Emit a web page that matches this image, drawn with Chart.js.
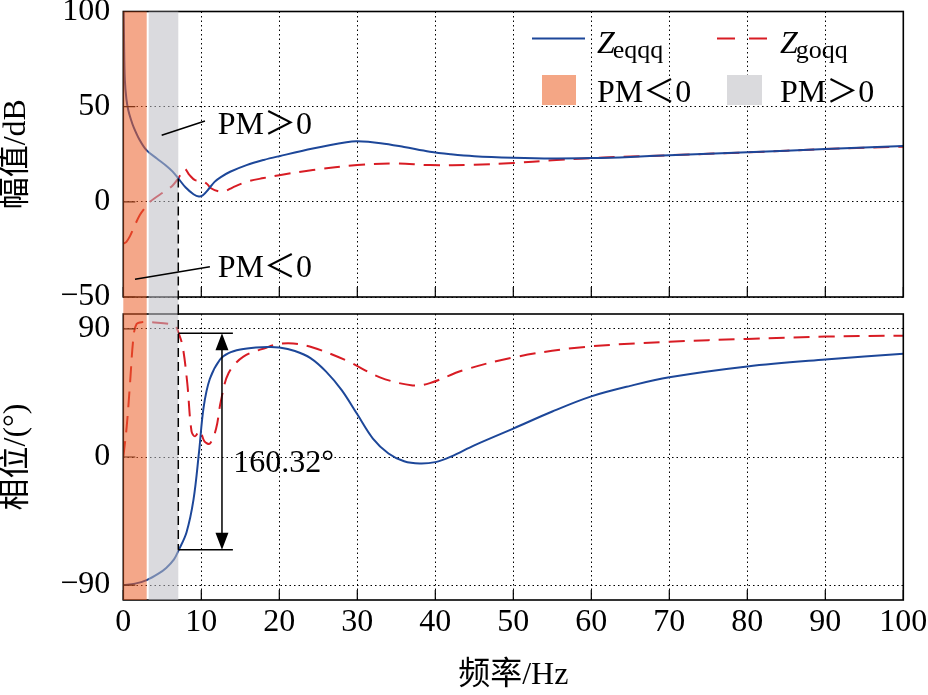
<!DOCTYPE html>
<html>
<head>
<meta charset="utf-8">
<script src="https://cdn.jsdelivr.net/npm/chart.js@4.4.1/dist/chart.umd.min.js"></script>
<style>
  html, body { margin: 0; padding: 0; background: #fff; }
  #wrap { position: relative; width: 928px; height: 695px; }
  canvas { position: absolute; left: 0; }
  #magChart { top: 0; }
  #phaseChart { top: 306px; }
</style>
</head>
<body>
<div id="wrap">
  <canvas id="magChart" width="928" height="306"></canvas>
  <canvas id="phaseChart" width="928" height="389"></canvas>
</div>
<script>
// Bode plot of Zeqqq / Zgoqq

// magnitude (dB)
const magFreqE = [0.03, 0.1, 0.2, 0.4, 0.65, 1, 1.3, 2.1, 3, 4.3, 5.5, 6.3, 7.05, 8, 9, 9.7, 10.2, 11, 11.7, 12.5, 13.7, 15.8, 18, 20, 24.3, 28.6, 30, 33, 36, 39.3, 42, 45, 50, 55, 60, 65, 70, 80, 90, 100];
const magE = [110, 83, 64, 54, 48, 43, 39.5, 32.5, 27, 22.8, 19, 16, 12.3, 7.5, 4, 2.8, 3.5, 7, 10.5, 13, 15.8, 19.3, 22, 24, 28, 31.3, 31.8, 30.8, 28.8, 26.3, 25, 24, 23.2, 22.8, 23, 23.6, 24.5, 26, 27.7, 29.3];
const magFreqG = [0, 0.4, 0.86, 1.3, 2.1, 2.8, 3.4, 5.4, 6.3, 7.05, 7.5, 7.9, 8.5, 9.2, 10, 10.7, 11.3, 12.3, 13, 14, 15.8, 18, 20, 24.3, 30, 35, 39.3, 45, 50, 55, 60, 70, 80, 90, 100];
const magG = [-22, -21, -18, -14, -7, -3, 0, 5.8, 8.5, 12.3, 15.5, 17.3, 14, 11.4, 11, 9.5, 7, 5.4, 5.5, 7.5, 10.5, 12.5, 14, 16.7, 19.3, 20.2, 19.3, 19.5, 20.4, 21.8, 23, 24.5, 26, 27.7, 29];

// phase (deg)
const phaseFreqE = [0, 1.5, 3, 4.5, 5.5, 6.5, 7.05, 8.1, 9, 9.7, 10.3, 11.1, 12.4, 13.5, 15, 17, 18.5, 20, 22, 24, 26, 28, 30, 32, 34, 36, 38, 40, 42, 45, 50, 55, 60, 65, 70, 80, 90, 100];
const phaseE = [-90, -89, -86.5, -82, -78, -72, -66, -53, -30, 3, 35, 55, 68.5, 73, 75.5, 77, 77.3, 77, 74.5, 69.5, 60, 47, 30, 13, 2.5, -3, -4.6, -3.6, 0.3, 8.2, 20, 32, 42.6, 50, 56, 63.6, 68.5, 72.6];
const phaseFreqG = [0, 0.43, 0.86, 1.3, 1.7, 2.5, 4, 6, 6.7, 7.05, 7.6, 8.2, 8.75, 9.2, 9.8, 10.4, 11.1, 11.9, 12.5, 13.5, 15.4, 18.4, 20, 21.8, 24.3, 28.6, 32.9, 37.1, 39.3, 43.5, 50, 58.5, 70, 80, 90, 100];
const phaseG = [0, 21, 51.5, 84, 93.5, 94.8, 94.5, 93.5, 92, 87.7, 78, 52, 18, 14.5, 18.7, 11, 9.4, 20, 39, 59, 70.5, 77, 79.5, 79.8, 77, 67.8, 56, 50.3, 51.9, 60.8, 70, 77, 81, 83, 84.6, 85.3];

// ticks
const xTicks = [0, 10, 20, 30, 40, 50, 60, 70, 80, 90, 100];
const magTicks = [-50, 0, 50, 100];
const phaseTicks = [-90, 0, 90];

// shaded bands and phase margin marker
const pmNegBand = [0, 3];
const pmPosBand = [3.25, 7.05];
const marginFreq = 7.05;
const marginMag = 12.3;
const marginPhaseTop = 86.9;
const marginPhaseBottom = -65.2;

const serif = '"Liberation Serif", "Noto Sans CJK SC", serif';
const blue = '#1d4799';
const red = '#d81c24';
const orangeBand = 'rgba(235, 95, 40, 0.55)';
const grayBand = 'rgba(188, 188, 195, 0.55)';

Chart.defaults.font.family = serif;
Chart.defaults.font.size = 32;
Chart.defaults.color = '#000';

function toPoints(xs, ys) {
    return xs.map((v, i) => ({ x: v, y: ys[i] }));
}
function fmt(v) {
    return v < 0 ? '\u2212' + Math.abs(v) : String(v);
}

const gridStyle = { color: '#000', lineWidth: 1, drawTicks: false };
const borderStyle = { display: false, dash: [1.5, 3] };

function drawFrame(chart) {
    const { ctx, chartArea: a, scales: { x, y } } = chart;
    ctx.save();
    ctx.strokeStyle = '#000';
    ctx.setLineDash([]);
    ctx.lineWidth = 1.2;
    ctx.beginPath();
    x.ticks.forEach(t => {
        const px = x.getPixelForValue(t.value);
        ctx.moveTo(px, a.bottom);
        ctx.lineTo(px, a.bottom - 10);
    });
    y.ticks.forEach(t => {
        const py = y.getPixelForValue(t.value);
        ctx.moveTo(a.left, py);
        ctx.lineTo(a.left + 12, py);
    });
    ctx.stroke();
    ctx.lineWidth = 1.6;
    ctx.strokeRect(a.left, a.top, a.right - a.left, a.bottom - a.top);
    ctx.restore();
}

function drawBands(chart, y0, y1) {
    const { ctx, scales: { x } } = chart;
    ctx.save();
    let l = x.getPixelForValue(pmNegBand[0]), r = x.getPixelForValue(pmNegBand[1]);
    ctx.fillStyle = orangeBand;
    ctx.fillRect(l, y0, r - l, y1 - y0);
    l = x.getPixelForValue(pmPosBand[0]);
    r = x.getPixelForValue(pmPosBand[1]);
    ctx.fillStyle = grayBand;
    ctx.fillRect(l, y0, r - l, y1 - y0);
    ctx.restore();
}

function legendLabel(ctx, x, base, sub) {
    ctx.font = 'italic 32px ' + serif;
    ctx.fillText('Z', x, base);
    const w = ctx.measureText('Z').width;
    ctx.font = '26px ' + serif;
    ctx.fillText(sub, x + w - 2, base + 5);
}

const magDecor = {
    id: 'magDecor',
    afterDatasetsDraw(chart) {
        drawFrame(chart);
        drawBands(chart, chart.chartArea.top, chart.height);
    },
    afterDraw(chart) {
        const { ctx, scales: { x, y } } = chart;
        ctx.save();
        // dashed marker at the crossing
        ctx.strokeStyle = '#000';
        ctx.lineWidth = 1.5;
        ctx.setLineDash([9, 5]);
        ctx.beginPath();
        ctx.moveTo(x.getPixelForValue(marginFreq), y.getPixelForValue(marginMag));
        ctx.lineTo(x.getPixelForValue(marginFreq), chart.height);
        ctx.stroke();
        ctx.setLineDash([]);

        // PM labels with leader lines
        ctx.lineWidth = 1.5;
        ctx.beginPath();
        ctx.moveTo(x.getPixelForValue(4.92), y.getPixelForValue(35));
        ctx.lineTo(x.getPixelForValue(10.47), y.getPixelForValue(42.5));
        ctx.moveTo(x.getPixelForValue(1.5), y.getPixelForValue(-40.7));
        ctx.lineTo(x.getPixelForValue(11.1), y.getPixelForValue(-34.1));
        ctx.stroke();
        ctx.fillStyle = '#000';
        ctx.font = '32px ' + serif;
        ctx.textBaseline = 'alphabetic';
        ctx.fillText('PM＞0', x.getPixelForValue(12.1), y.getPixelForValue(35.4));
        ctx.fillText('PM＜0', x.getPixelForValue(12.1), y.getPixelForValue(-39.4));

        // legend
        ctx.lineWidth = 2;
        ctx.strokeStyle = blue;
        ctx.beginPath();
        ctx.moveTo(532, 38.5);
        ctx.lineTo(585, 38.5);
        ctx.stroke();
        ctx.strokeStyle = red;
        ctx.setLineDash([18, 14]);
        ctx.beginPath();
        ctx.moveTo(717, 38.5);
        ctx.lineTo(770, 38.5);
        ctx.stroke();
        ctx.setLineDash([]);
        ctx.fillStyle = '#000';
        legendLabel(ctx, 597, 53, 'eqqq');
        legendLabel(ctx, 780, 53, 'goqq');
        ctx.fillStyle = '#f4a685';
        ctx.fillRect(542, 75, 34, 30);
        ctx.fillStyle = '#dadadd';
        ctx.fillRect(727, 75, 35, 30);
        ctx.fillStyle = '#000';
        ctx.font = '32px ' + serif;
        ctx.fillText('PM＜0', 597, 101.5);
        ctx.fillText('PM＞0', 780, 101.5);
        ctx.restore();
    }
};

const phaseDecor = {
    id: 'phaseDecor',
    afterDatasetsDraw(chart) {
        drawFrame(chart);
        drawBands(chart, 0, chart.chartArea.bottom);
    },
    afterDraw(chart) {
        const { ctx, scales: { x, y } } = chart;
        const xm = x.getPixelForValue(marginFreq);
        const yTop = y.getPixelForValue(marginPhaseTop);
        const yBot = y.getPixelForValue(marginPhaseBottom);
        const ax = x.getPixelForValue(12.65);
        const xr = x.getPixelForValue(14.05);
        ctx.save();
        ctx.strokeStyle = '#000';
        ctx.fillStyle = '#000';
        ctx.lineWidth = 1.5;
        ctx.setLineDash([9, 5]);
        ctx.beginPath();
        ctx.moveTo(xm, 0);
        ctx.lineTo(xm, yBot);
        ctx.stroke();
        ctx.setLineDash([]);

        // 160.32° span
        ctx.beginPath();
        ctx.moveTo(xm, yTop);
        ctx.lineTo(xr, yTop);
        ctx.moveTo(xm, yBot);
        ctx.lineTo(xr, yBot);
        ctx.moveTo(ax, yTop + 12);
        ctx.lineTo(ax, yBot - 12);
        ctx.stroke();
        ctx.beginPath();
        ctx.moveTo(ax, yTop);
        ctx.lineTo(ax - 6.5, yTop + 17);
        ctx.lineTo(ax + 6.5, yTop + 17);
        ctx.closePath();
        ctx.moveTo(ax, yBot);
        ctx.lineTo(ax - 6.5, yBot - 17);
        ctx.lineTo(ax + 6.5, yBot - 17);
        ctx.closePath();
        ctx.fill();
        ctx.font = '32px ' + serif;
        ctx.fillText('160.32°', x.getPixelForValue(14.1), y.getPixelForValue(-10.3));
        ctx.restore();
    }
};

function lineSet(label, pts, color, dash) {
    return {
        label: label,
        data: pts,
        borderColor: color,
        borderWidth: 2,
        borderDash: dash,
        pointRadius: 0,
        fill: false,
        tension: 0.35
    };
}

new Chart(document.getElementById('magChart'), {
    type: 'line',
    data: {
        datasets: [
            lineSet('Zeqqq', toPoints(magFreqE, magE), blue, []),
            lineSet('Zgoqq', toPoints(magFreqG, magG), red, [16, 9])
        ]
    },
    options: {
        responsive: false,
        animation: false,
        layout: { padding: { top: 11.5, right: 24.7, bottom: 0, left: 0 } },
        plugins: { legend: { display: false }, tooltip: { enabled: false } },
        scales: {
            x: {
                type: 'linear', min: 0, max: 100,
                afterBuildTicks: s => { s.ticks = xTicks.map(v => ({ value: v })); },
                ticks: { display: false },
                grid: gridStyle,
                border: borderStyle,
                afterFit: s => { s.height = 9; s.paddingLeft = 0; s.paddingRight = 0; }
            },
            y: {
                type: 'linear', min: -50, max: 100,
                afterBuildTicks: s => { s.ticks = magTicks.map(v => ({ value: v })); },
                ticks: { padding: 13, callback: v => fmt(v) },
                grid: gridStyle,
                border: borderStyle,
                title: { display: true, text: '幅值/dB', font: { size: 32, lineHeight: 1.05 }, padding: 0 },
                afterFit: s => { s.width = 123.3; s.paddingTop = 0; s.paddingBottom = 0; }
            }
        }
    },
    plugins: [magDecor]
});

new Chart(document.getElementById('phaseChart'), {
    type: 'line',
    data: {
        datasets: [
            lineSet('Zeqqq', toPoints(phaseFreqE, phaseE), blue, []),
            lineSet('Zgoqq', toPoints(phaseFreqG, phaseG), red, [16, 9])
        ]
    },
    options: {
        responsive: false,
        animation: false,
        layout: { padding: { top: 8, right: 24.7, bottom: 0, left: 0 } },
        plugins: { legend: { display: false }, tooltip: { enabled: false } },
        scales: {
            x: {
                type: 'linear', min: 0, max: 100,
                afterBuildTicks: s => { s.ticks = xTicks.map(v => ({ value: v })); },
                ticks: { padding: 3, maxRotation: 0, autoSkip: false },
                grid: gridStyle,
                border: borderStyle,
                title: { display: true, text: '频率/Hz', font: { size: 32 }, padding: 0 },
                afterFit: s => { s.height = 95; s.paddingLeft = 0; s.paddingRight = 0; }
            },
            y: {
                type: 'linear', min: -100.5, max: 100.5,
                afterBuildTicks: s => { s.ticks = phaseTicks.map(v => ({ value: v })); },
                ticks: { padding: 13, callback: v => fmt(v) },
                grid: gridStyle,
                border: borderStyle,
                title: { display: true, text: '相位/(°)', font: { size: 32, lineHeight: 1.05 }, padding: 0 },
                afterFit: s => { s.width = 123.3; s.paddingTop = 0; s.paddingBottom = 0; }
            }
        }
    },
    plugins: [phaseDecor]
});
</script>
</body>
</html>
